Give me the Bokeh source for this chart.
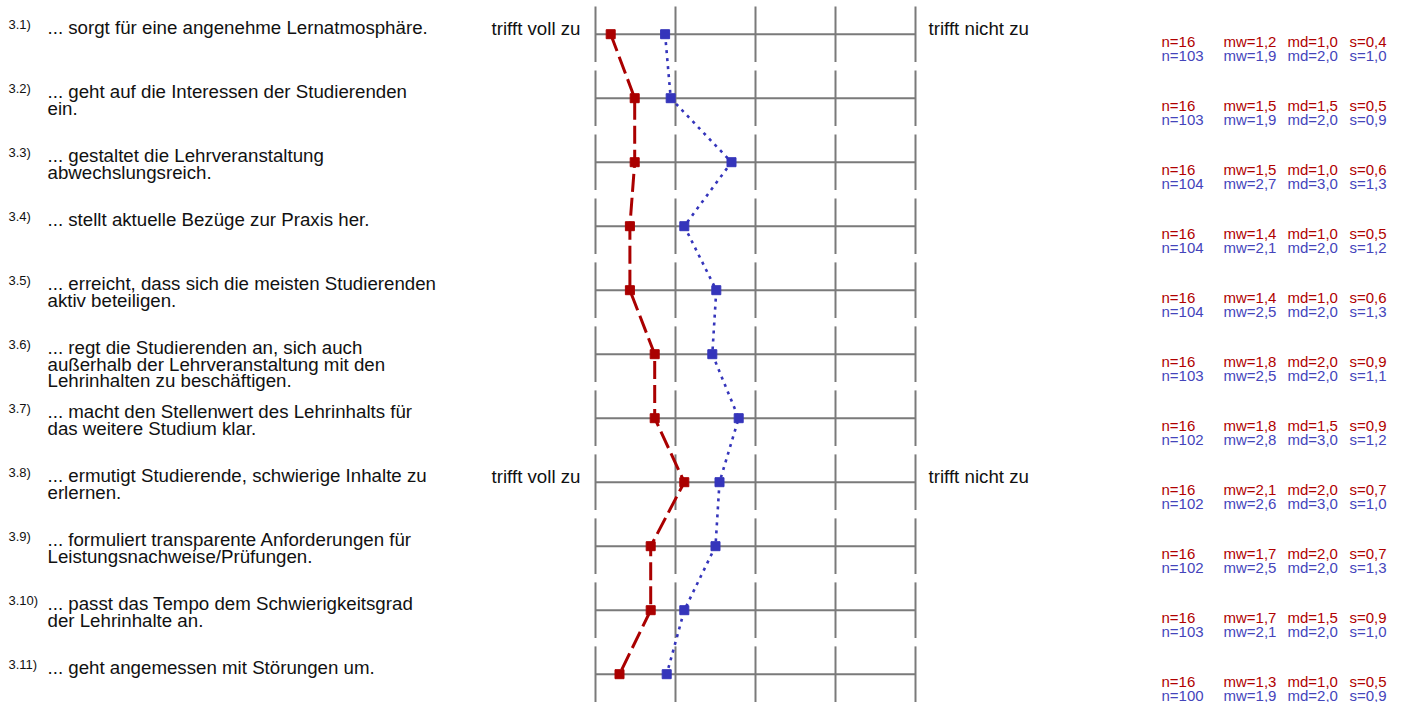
from bokeh.plotting import figure
from bokeh.models import Range1d
from bokeh.core.properties import value
from bokeh.embed import file_html
from bokeh.resources import INLINE

# ---------------- data ----------------
item_numbers = ["3.1)", "3.2)", "3.3)", "3.4)", "3.5)", "3.6)", "3.7)", "3.8)", "3.9)", "3.10)", "3.11)"]
questions = [
    "... sorgt für eine angenehme Lernatmosphäre.",
    "... geht auf die Interessen der Studierenden\nein.",
    "... gestaltet die Lehrveranstaltung\nabwechslungsreich.",
    "... stellt aktuelle Bezüge zur Praxis her.",
    "... erreicht, dass sich die meisten Studierenden\naktiv beteiligen.",
    "... regt die Studierenden an, sich auch\naußerhalb der Lehrveranstaltung mit den\nLehrinhalten zu beschäftigen.",
    "... macht den Stellenwert des Lehrinhalts für\ndas weitere Studium klar.",
    "... ermutigt Studierende, schwierige Inhalte zu\nerlernen.",
    "... formuliert transparente Anforderungen für\nLeistungsnachweise/Prüfungen.",
    "... passt das Tempo dem Schwierigkeitsgrad\nder Lehrinhalte an.",
    "... geht angemessen mit Störungen um.",
]
left_pole = "trifft voll zu"
right_pole = "trifft nicht zu"
pole_rows = [0, 7]
scale_points = [1, 2, 3, 4, 5]

# profile positions (means)
red_mean = [1.19, 1.49, 1.49, 1.43, 1.43, 1.74, 1.74, 2.11, 1.69, 1.69, 1.30]
blue_mean = [1.87, 1.94, 2.70, 2.11, 2.51, 2.46, 2.79, 2.55, 2.50, 2.11, 1.89]

# statistics shown on the right
red_n = [16, 16, 16, 16, 16, 16, 16, 16, 16, 16, 16]
red_mw = [1.2, 1.5, 1.5, 1.4, 1.4, 1.8, 1.8, 2.1, 1.7, 1.7, 1.3]
red_md = [1.0, 1.5, 1.0, 1.0, 1.0, 2.0, 1.5, 2.0, 2.0, 1.5, 1.0]
red_s = [0.4, 0.5, 0.6, 0.5, 0.6, 0.9, 0.9, 0.7, 0.7, 0.9, 0.5]
blue_n = [103, 103, 104, 104, 104, 103, 102, 102, 102, 103, 100]
blue_mw = [1.9, 1.9, 2.7, 2.1, 2.5, 2.5, 2.8, 2.6, 2.5, 2.1, 1.9]
blue_md = [2.0, 2.0, 3.0, 2.0, 2.0, 2.0, 3.0, 3.0, 2.0, 2.0, 2.0]
blue_s = [1.0, 0.9, 1.3, 1.2, 1.3, 1.1, 1.2, 1.0, 1.3, 1.0, 0.9]

# ---------------- styling ----------------
RED = "#aa0000"
BLUE = "#3535bb"
RED_TXT = "#b00000"
BLUE_TXT = "#4444bb"
GRID = "#7a7a7a"
FONT = value("Liberation Sans")

W, H = 1404, 702
PX_UNIT = 80.0     # pixels per scale point
PX_ROW = 64.0      # pixels per item row
SCALE_LEFT = 595.0 # frame pixel of scale point 1
ROW0 = 33.7        # frame pixel of first row centre

rows = list(range(len(questions)))
x_start = 1 - SCALE_LEFT / PX_UNIT
x_end = x_start + W / PX_UNIT
y_top = -ROW0 / PX_ROW
y_bottom = y_top + H / PX_ROW

p = figure(width=W, height=H, output_backend="svg", toolbar_location=None,
           x_range=Range1d(x_start, x_end), y_range=Range1d(y_bottom, y_top),
           min_border=0, min_border_left=0, min_border_right=0,
           min_border_top=0, min_border_bottom=0)
p.axis.visible = False
p.grid.visible = False
p.outline_line_color = None
p.background_fill_color = "white"
p.border_fill_color = "white"

# grid: horizontal line per row, short vertical ticks per scale point
half = 27.8 / PX_ROW
hx0, hx1, hy = [], [], []
for r in rows:
    hx0.append(scale_points[0]); hx1.append(scale_points[-1]); hy.append(r)
p.segment(x0=hx0, y0=hy, x1=hx1, y1=hy, line_color=GRID, line_width=2)
vx, vy0, vy1 = [], [], []
for r in rows:
    for s in scale_points:
        vx.append(s); vy0.append(r - half); vy1.append(r + half)
p.segment(x0=vx, y0=vy0, x1=vx, y1=vy1, line_color=GRID, line_width=2)

# profile lines
p.line(blue_mean, rows, line_color=BLUE, line_width=2.6, line_dash="3 5")
p.line(red_mean, rows, line_color=RED, line_width=3, line_dash="18 6")
p.scatter(blue_mean, rows, marker="square", size=9, fill_color=BLUE, line_color=BLUE)
p.scatter(red_mean, rows, marker="square", size=9, fill_color=RED, line_color=RED)

# item numbers
p.text(x=[1] * len(rows), y=rows, text=item_numbers, x_offset=-587, y_offset=-10,
       text_align="left", text_baseline="middle", text_font=FONT,
       text_font_size=value("13px"), text_color="#111111")

# question texts (one glyph entry per line)
qx, qy, qt, qo = [], [], [], []
for r, q in zip(rows, questions):
    for k, line in enumerate(q.split("\n")):
        qx.append(1); qy.append(r); qt.append(line); qo.append(-6.5 + 16.5 * k)
p.text(x=qx, y=qy, text=qt, x_offset=-548, y_offset=qo,
       text_align="left", text_baseline="middle", text_font=FONT,
       text_font_size=value("18.7px"), text_color="#111111")

# pole labels
p.text(x=[scale_points[0]] * len(pole_rows), y=pole_rows, text=[left_pole] * len(pole_rows),
       x_offset=-15, y_offset=-5.5, text_align="right", text_baseline="middle",
       text_font=FONT, text_font_size=value("18.7px"), text_color="#111111")
p.text(x=[scale_points[-1]] * len(pole_rows), y=pole_rows, text=[right_pole] * len(pole_rows),
       x_offset=13, y_offset=-5.5, text_align="left", text_baseline="middle",
       text_font=FONT, text_font_size=value("18.7px"), text_color="#111111")

# statistics
def fmt(v):
    return f"{v:.1f}".replace(".", ",")

col_offsets = [246, 308, 372, 434]
for series, color, dy in (((red_n, red_mw, red_md, red_s), RED_TXT, 7.5),
                          ((blue_n, blue_mw, blue_md, blue_s), BLUE_TXT, 21.5)):
    n_arr, mw_arr, md_arr, s_arr = series
    texts = [
        [f"n={n}" for n in n_arr],
        [f"mw={fmt(v)}" for v in mw_arr],
        [f"md={fmt(v)}" for v in md_arr],
        [f"s={fmt(v)}" for v in s_arr],
    ]
    for off, tx in zip(col_offsets, texts):
        p.text(x=[scale_points[-1]] * len(rows), y=rows, text=tx, x_offset=off, y_offset=dy,
               text_align="left", text_baseline="middle", text_font=FONT,
               text_font_size=value("15px"), text_color=color)

open("out.html", "w").write(file_html(p, INLINE))
